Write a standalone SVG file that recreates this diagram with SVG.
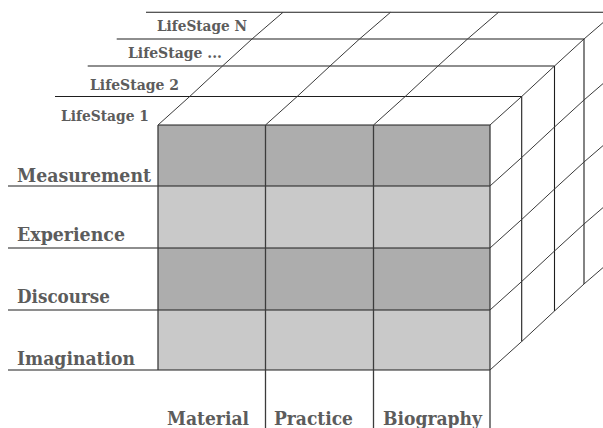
<svg xmlns="http://www.w3.org/2000/svg" width="603" height="428" viewBox="0 0 603 428">
<style>
.ln{stroke:#1e1e1e;stroke-width:1.1;fill:none}
.dg{stroke:#3a3a3a;stroke-width:1;fill:none}
.vc{stroke:#3c3c3c;stroke-width:1.3;fill:none}
.dark{fill:#adadad}
.light{fill:#c9c9c9}
.lb{font-family:"DejaVu Serif","Liberation Serif",serif;font-weight:bold;fill:#5c5c5c;font-size:19px}
.ls{font-family:"DejaVu Serif","Liberation Serif",serif;font-weight:bold;fill:#5c5c5c;font-size:15px}
</style>
<rect width="603" height="428" fill="#ffffff"/>
<g id="cells">
<g id="row-measurement"><rect class="dark" x="158" y="125" width="332" height="61"/></g>
<g id="row-experience"><rect class="light" x="158" y="186" width="332" height="62"/></g>
<g id="row-discourse"><rect class="dark" x="158" y="248" width="332" height="62"/></g>
<g id="row-imagination"><rect class="light" x="158" y="310" width="332" height="60"/></g>
</g>
<g id="connectors">
<line class="ln" x1="158" y1="125" x2="490" y2="125"/>
<line class="ln" x1="55" y1="96.5" x2="521.7" y2="96.5"/>
<line class="ln" x1="87.7" y1="66" x2="554.5" y2="66"/>
<line class="ln" x1="116.7" y1="39" x2="584" y2="39"/>
<line class="ln" x1="146" y1="12.3" x2="603" y2="12.3"/>
<polyline class="dg" points="158,125 189.7,96.5 222.5,66 252,39 283,12.3"/>
<polyline class="dg" points="265.5,125 297.2,96.5 330,66 359.5,39 390.5,12.3"/>
<polyline class="dg" points="373.5,125 405.2,96.5 438,66 467.5,39 498.5,12.3"/>
<polyline class="dg" points="490,125 521.7,96.5 554.5,66 584,39 615,12.3"/>
<line class="ln" x1="521.7" y1="96.5" x2="521.7" y2="341.5"/>
<line class="ln" x1="554.5" y1="66" x2="554.5" y2="311"/>
<line class="ln" x1="584" y1="39" x2="584" y2="284"/>
<polyline class="dg" points="490,186 521.7,157.5 554.5,127 584,100 615,73.3"/>
<polyline class="dg" points="490,248 521.7,219.5 554.5,189 584,162 615,135.3"/>
<polyline class="dg" points="490,310 521.7,281.5 554.5,251 584,224 615,197.3"/>
<polyline class="dg" points="490,370 521.7,341.5 554.5,311 584,284 615,257.3"/>
<line class="ln" x1="8" y1="186" x2="490" y2="186"/>
<line class="ln" x1="8" y1="248" x2="490" y2="248"/>
<line class="ln" x1="8" y1="310" x2="490" y2="310"/>
<line class="ln" x1="8" y1="370" x2="490" y2="370"/>
<line class="vc" x1="158" y1="125" x2="158" y2="370"/>
<line class="vc" x1="265.5" y1="125" x2="265.5" y2="428"/>
<line class="vc" x1="373.5" y1="125" x2="373.5" y2="428"/>
<line class="vc" x1="490" y1="125" x2="490" y2="428"/>
</g>
<g id="row-labels">
<text class="lb" x="17" y="181.5" textLength="134" lengthAdjust="spacingAndGlyphs">Measurement</text>
<text class="lb" x="17" y="241" textLength="108" lengthAdjust="spacingAndGlyphs">Experience</text>
<text class="lb" x="17" y="303.3" textLength="93" lengthAdjust="spacingAndGlyphs">Discourse</text>
<text class="lb" x="17" y="365" textLength="118" lengthAdjust="spacingAndGlyphs">Imagination</text>
</g>
<g id="column-labels">
<text class="lb" x="167" y="424.5" textLength="82" lengthAdjust="spacingAndGlyphs">Material</text>
<text class="lb" x="274" y="424.5" textLength="79" lengthAdjust="spacingAndGlyphs">Practice</text>
<text class="lb" x="383" y="424.5" textLength="99" lengthAdjust="spacingAndGlyphs">Biography</text>
</g>
<g id="lifestage-labels">
<text class="ls" x="157" y="31" textLength="90" lengthAdjust="spacingAndGlyphs">LifeStage N</text>
<text class="ls" x="128" y="58" textLength="94" lengthAdjust="spacingAndGlyphs">LifeStage ...</text>
<text class="ls" x="90" y="89.5" textLength="89" lengthAdjust="spacingAndGlyphs">LifeStage 2</text>
<text class="ls" x="61" y="120.5" textLength="88" lengthAdjust="spacingAndGlyphs">LifeStage 1</text>
</g>
</svg>
